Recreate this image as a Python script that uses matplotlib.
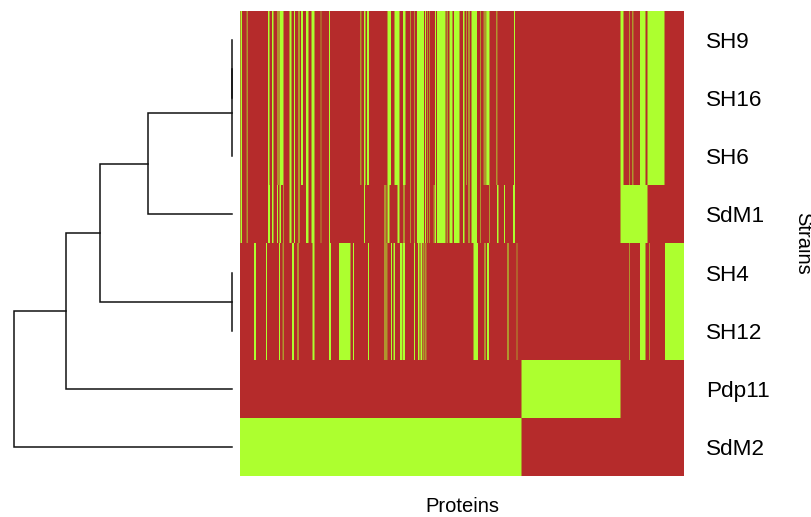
import numpy as np
import matplotlib
matplotlib.use("Agg")
import matplotlib.pyplot as plt
from matplotlib.colors import LinearSegmentedColormap

plt.rcParams['font.family'] = ['Liberation Sans', 'DejaVu Sans']

strains = ["SH9", "SH16", "SH6", "SdM1", "SH4", "SH12", "Pdp11", "SdM2"]
xlabel = "Proteins"
ylabel = "Strains"
n_proteins = 444  # one column per pixel of the picture

# spans of present proteins, in half-protein index, (start, stop, level); level 1 = present, 0.5 = mixed
core_a = [(1,4,1),(13,16,.5),(56,58.6,1),(64,67.4,1),(74.6,77.4,1),(79.4,86.6,1),(98.6,102.6,1),(108,110,1),
          (116,120,.5),(122,126,1),(132,137.4,1),(142.6,149.4,1),(161.4,163.4,.5),(178,180,1),(240,243.4,.5),
          (248,250.6,1),(254,258,1),(294.6,302,1),(309.4,318.6,1),(326,331.4,1),(340,342,.5),(348.6,350,1),
          (354,368,1),(370,372,1),(374.6,376,1),(378.6,380,1),(390,392,1),(394,410.6,1),(413.4,416,.5),
          (418.6,425.4,1),(428,438.6,1),(446,449.4,1),(452,453.4,1),(456.6,458.6,1),(463.4,474,1),(480.6,482,1),
          (487.4,493.4,.5),(493.4,499.4,1),(512,515.4,.5),(548,550,1),(761.4,766.6,1),(778.6,780,1),
          (784,787.4,.5),(800,810.6,1),(814.6,849.4,1)]
sdm1 = [(1,4,1),(13,16,.5),(56,60,1),(64,67.4,1),(74,76,1),(79.4,82,1),(86,88,.5),(98.6,102.6,1),(108,110,1),
        (116,120,.5),(146,149.4,1),(132,137.4,1),(142.6,148,1),(161.4,163.4,.5),(178,180,1),(248,250,1),
        (288,293.4,.5),(294.6,298.6,1),(314.6,318.6,1),(327.4,329.4,1),(340,342,.5),(348.6,350,1),(354,368,1),
        (370,372,1),(374.6,376,1),(378.6,380,1),(386.6,390,.5),(390,392,1),(394,410.6,1),(413.4,416,.5),
        (418.6,425.4,1),(428,438.6,1),(446,449.4,1),(456.6,458.6,1),(463.4,474,1),(480.6,482,1),(498,499.4,1),
        (514,517.4,1),(528,530,1),(546,550,1),(761.4,814.6,1)]
sh4 = [(28,32,1),(52,54,1),(78,80,1),(85.4,88,.5),(104,108,1),(114,118,.5),(144.6,148.6,1),(178,182,1),
       (198,221.4,1),(226,228,1),(256,258,1),(288,295.4,.5),(302,304,1),(307.4,310,1),(320,324.6,1),(326,330,1),
       (348,350,1),(356,358.6,1),(360.6,364,1),(365.4,369.4,.5),(370,372.6,.5),(466.6,476,1),(488,492,.5),
       (494,498,1),(534,538,.5),(553.4,555.4,.5),(778.6,780,1),(800,810.6,1),(818.6,820,1),(850,888,1)]
pdp11 = [(563,761,1)]
sdm2 = [(0,563,1)]
row_spans = [core_a, core_a, core_a, sdm1, sh4, sh4, pdp11, sdm2]

# dendrogram merges: (child a, child b, height); leaves are numbered by row
merge_heights = [(0, 1, 0.0), (8, 2, 0.0), (9, 3, 84.0), (4, 5, 0.0), (10, 11, 132.0), (12, 6, 166.0), (13, 7, 218.0)]

W, H = 812, 517
fig = plt.figure(figsize=(W / 100, H / 100), dpi=100, facecolor="white")

HX0, HX1, HY0, HY1 = 240, 684, 11, 476
ax = fig.add_axes([HX0 / W, 1 - HY1 / H, (HX1 - HX0) / W, (HY1 - HY0) / H])
fine = np.zeros((len(strains), n_proteins * 2))
cols = np.arange(n_proteins * 2) + 0.5
for r, spans in enumerate(row_spans):
    for a, b, level in spans:
        fine[r, (cols >= a) & (cols < b)] = level
matrix = fine.reshape(len(strains), n_proteins, 2).mean(axis=2)
cmap = LinearSegmentedColormap.from_list("pa", ["#B52B2B", "#ADFF2F"])
ax.imshow(matrix, aspect="auto", cmap=cmap, vmin=0, vmax=1, interpolation="nearest")
ax.set_xticks([])
ax.yaxis.tick_right()
ax.set_yticks(np.arange(len(strains)))
ax.set_yticklabels(strains, fontsize=16.2)
ax.tick_params(axis="y", length=0, pad=16)
for s in ax.spines.values():
    s.set_visible(False)
fig.text(462 / W, 1 - 506 / H, xlabel, ha="center", va="center", fontsize=14.5)
fig.text(803 / W, 1 - 243 / H, ylabel, ha="center", va="center", rotation=270, fontsize=14.5)

# dendrogram shares the row scale with the heat map
dx = fig.add_axes([0, 1 - HY1 / H, HX0 / W, (HY1 - HY0) / H])
dx.set_xlim(-232, 8)
dx.set_ylim(len(strains) - 0.5, -0.5)
dx.axis("off")
pos = {i: (0.0, float(i)) for i in range(len(strains))}
for k, (a, b, h) in enumerate(merge_heights):
    xa, ya = pos[a]
    xb, yb = pos[b]
    dx.plot([-xa, -h, -h, -xb], [ya, ya, yb, yb], color="#111111", lw=1.1, solid_joinstyle="miter")
    pos[len(strains) + k] = (h, (ya + yb) / 2)

fig.savefig("out.png", dpi=100)
